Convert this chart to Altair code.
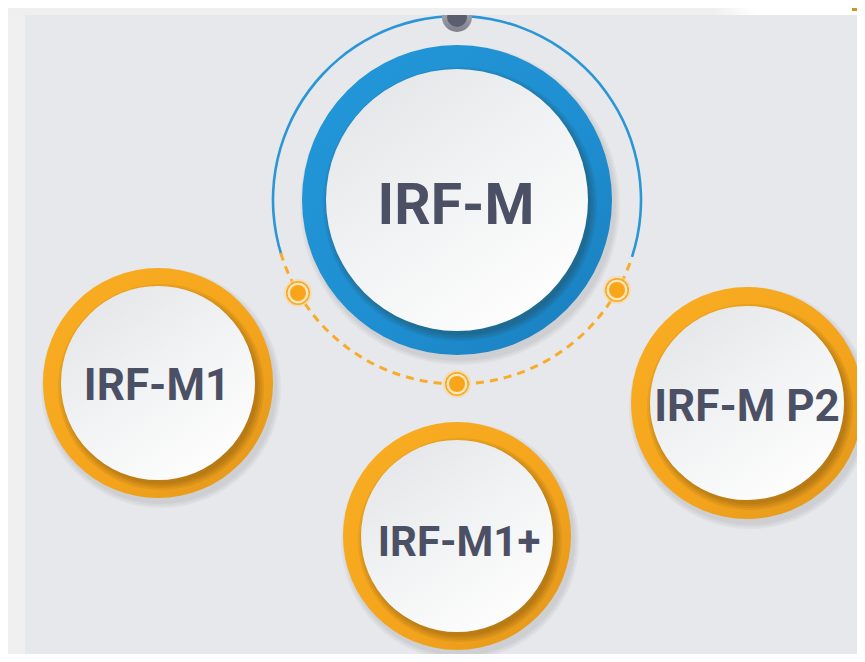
import numpy as np
import pandas as pd
import altair as alt

# ---- diagram content -------------------------------------------------------
labels = ["IRF-M", "IRF-M1", "IRF-M1+", "IRF-M P2"]
node_x = [457, 158, 457, 747]
node_y = [200, 383, 536, 403]
ring_outer = [155, 115, 114, 116]
ring_inner = [131, 97, 96, 97]
ring_kind = ["blue", "orange", "orange", "orange"]
label_x = [456, 157, 459, 747]
label_y = [207, 387, 543, 408]
label_size = [57, 44, 42, 44]

orbit_r = 184
blue_arc_deg = [-107.5, 108.0]
dash_arc_deg = [110.0, 251.0]
dot_x = [298, 617, 457]
dot_y = [293, 290, 384]
top_dot = [457, 17]

TAU = 2 * np.pi
W, H = 849, 646
xs = alt.Scale(domain=[8, 8 + W], zero=False, nice=False)
ys = alt.Scale(domain=[8, 8 + H], zero=False, nice=False, reverse=True)


def X(f="x"):
    return alt.X(f, type="quantitative", scale=xs, axis=None)


def Y(f="y"):
    return alt.Y(f, type="quantitative", scale=ys, axis=None)


def arcs(rows, **mark):
    df = pd.DataFrame(rows, columns=["x", "y", "t1", "t2", "r1", "r2"])
    return alt.Chart(df).mark_arc(**mark).encode(
        x=X(), y=Y(),
        theta=alt.Theta("t1:Q", scale=None, stack=False),
        theta2="t2:Q",
        radius=alt.Radius("r1:Q", scale=None),
        radius2="r2:Q",
    )


def rects(rows, **mark):
    df = pd.DataFrame(rows, columns=["x", "x2", "y", "y2"])
    return alt.Chart(df).mark_rect(**mark).encode(
        x=X(), x2="x2:Q", y=Y(), y2="y2:Q")


def lg(stops, x1=0, y1=0, x2=1, y2=1):
    return alt.LinearGradient(
        gradient="linear", x1=x1, y1=y1, x2=x2, y2=y2,
        stops=[alt.GradientStop(color=c, offset=o) for o, c in stops])


layers = []

# side strip of the page
layers.append(rects([[8, 25, 8, 8 + H]], color="#f0f0f0"))

# orbit around the main node
t_a, t_b = np.deg2rad(blue_arc_deg)
layers.append(arcs([[node_x[0], node_y[0], t_a, t_b, orbit_r + 1.3, orbit_r - 1.3]],
                   color="#2b96d6"))
dash_rows = []
for a in np.arange(dash_arc_deg[0], dash_arc_deg[1], 4.4):
    dash_rows.append([node_x[0], node_y[0], np.deg2rad(a), np.deg2rad(a + 2.5),
                      orbit_r + 1.5, orbit_r - 1.5])
layers.append(arcs(dash_rows, color="#f7ac2a"))

# markers on the orbit
layers.append(arcs([[x, y, 0, TAU, 14, 0] for x, y in zip(dot_x, dot_y)],
                   color="#fbd592", opacity=0.55))
layers.append(arcs([[x, y, 0, TAU, 12, 10.3] for x, y in zip(dot_x, dot_y)],
                   color="#f7aa27"))
layers.append(arcs([[x, y, 0, TAU, 10.3, 0] for x, y in zip(dot_x, dot_y)],
                   color="#fde6bb"))
layers.append(arcs([[x, y, 0, TAU, 8, 0] for x, y in zip(dot_x, dot_y)],
                   color="#f8a51a"))

# top marker
layers.append(arcs([[top_dot[0], top_dot[1], 0, TAU, 15, 0]],
                   fill=lg([(0, "#b5b7bf"), (1, "#7d808c")], 0, 0, 0, 1)))
layers.append(arcs([[top_dot[0], top_dot[1], 0, TAU, 10, 0]], color="#5a5e6e"))

# top strip
layers.append(rects([[8, 857, 8, 15]],
                    fill=lg([(0, "#efefef"), (0.83, "#efefef"), (0.88, "#ffffff"), (1, "#ffffff")],
                            0, 0, 1, 0)))
layers.append(rects([[852, 857, 8, 11]], color="#d8902a"))

# nodes: drop shadow, ring, inner shadow, white disc
shadow_rows = []
for x, y, R in zip(node_x, node_y, ring_outer):
    for k in (1, 3, 5):
        shadow_rows.append([x + 3, y + 5, 0, TAU, R + k, 0])
layers.append(arcs(shadow_rows, color="#000000", opacity=0.035))

blue_rows = [[x, y, 0, TAU, R, 0] for x, y, R, k in zip(node_x, node_y, ring_outer, ring_kind) if k == "blue"]
orange_rows = [[x, y, 0, TAU, R, 0] for x, y, R, k in zip(node_x, node_y, ring_outer, ring_kind) if k == "orange"]
layers.append(arcs(blue_rows, fill=lg([(0, "#2398da"), (0.6, "#1e8ed0"), (1, "#1a7dbd")])))
layers.append(arcs(orange_rows, fill=lg([(0, "#f9ae22"), (0.6, "#f4a41c"), (1, "#e0961c")])))

inner_shadow = []
for x, y, r in zip(node_x, node_y, ring_inner):
    for k in (0, 2, 4, 6):
        inner_shadow.append([x + 3, y + 4, 0, TAU, r + k, 0])
layers.append(arcs(inner_shadow, color="#2a1a00", opacity=0.07))

layers.append(arcs([[x, y, 0, TAU, r, 0] for x, y, r in zip(node_x, node_y, ring_inner)],
                   fill=lg([(0, "#e4e5e8"), (0.45, "#f1f2f3"), (1, "#ffffff")], 0.15, 0, 0.85, 1)))

# labels
tdf = pd.DataFrame({"x": label_x, "y": label_y, "label": labels, "fs": label_size})
layers.append(alt.Chart(tdf).mark_text(
    font="Roboto", fontWeight="bold", color="#4b5064", align="center", baseline="middle"
).encode(x=X(), y=Y(), text="label:N", size=alt.Size("fs:Q", scale=None)))

chart = alt.layer(*layers).properties(
    width=W, height=H, padding=0, background="#e7e8eb",
    autosize=alt.AutoSizeParams(type="none"),
).configure_view(stroke=None)

chart.save("out.html", embed_options={"renderer": "svg", "actions": False})
